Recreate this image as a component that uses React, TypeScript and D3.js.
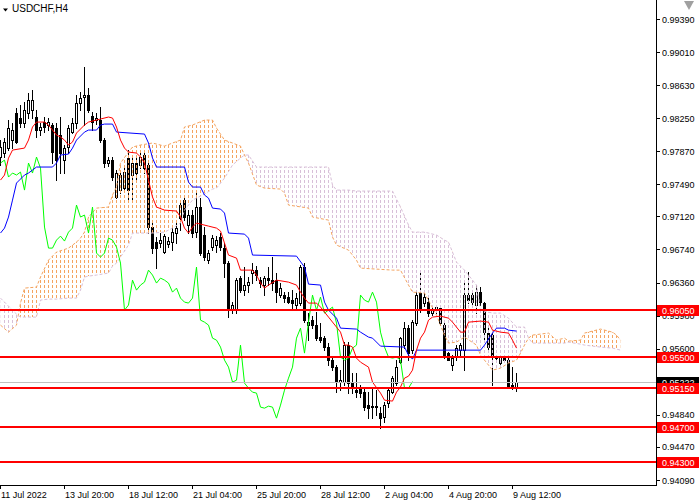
import React, { useEffect, useRef } from 'react';
import * as d3 from 'd3';

// USDCHF H4 bars, oldest first (11 Jul 2022 -> 9 Aug 2022)
const opens = [
  0.97803, 0.97849, 0.97906, 0.97998, 0.98309, 0.98251, 0.98194, 0.98309, 0.98343, 0.98263,
  0.98113, 0.98205, 0.98171, 0.98171, 0.98136, 0.98056, 0.97768, 0.97918, 0.98090, 0.98194,
  0.98424, 0.98493, 0.98516, 0.98274, 0.98228, 0.98228, 0.97998, 0.97734, 0.97768, 0.97343,
  0.97423, 0.97446, 0.97791, 0.97596, 0.97734, 0.97711, 0.97826, 0.97711, 0.96998, 0.96825,
  0.96814, 0.96710, 0.96802, 0.96825, 0.96929, 0.97101, 0.97308, 0.97021, 0.97136, 0.96940,
  0.97228, 0.96906, 0.96618, 0.96768, 0.96791, 0.96883, 0.96756, 0.96584, 0.96043, 0.96043,
  0.96411, 0.96273, 0.96331, 0.96469, 0.96503, 0.96388, 0.96331, 0.96411, 0.96388, 0.96388,
  0.96216, 0.96216, 0.96193, 0.96158, 0.96101, 0.96124, 0.96538, 0.95871, 0.95928, 0.95871,
  0.95733, 0.95721, 0.95618, 0.95468, 0.95388, 0.95215, 0.95215, 0.95641, 0.95204, 0.95123,
  0.95146, 0.95100, 0.94951, 0.94928, 0.94939, 0.94859, 0.94813, 0.94974, 0.95100, 0.95204,
  0.95445, 0.95641, 0.95836, 0.95583, 0.95894, 0.96239, 0.96124, 0.96135, 0.96009, 0.96043,
  0.96066, 0.95871, 0.95549, 0.95411, 0.95503, 0.95583, 0.95583, 0.96216, 0.96216, 0.96101,
  0.96250, 0.96124, 0.95779, 0.95756, 0.95503, 0.95434, 0.95514, 0.95468, 0.95181, 0.95158,
];
const highs = [
  0.97998, 0.98021, 0.98228, 0.98194, 0.98366, 0.98401, 0.98435, 0.98539, 0.98573, 0.98343,
  0.98194, 0.98263, 0.98251, 0.98194, 0.98194, 0.98263, 0.97941, 0.98171, 0.98251, 0.98516,
  0.98550, 0.98838, 0.98596, 0.98320, 0.98309, 0.98378, 0.98021, 0.97803, 0.97803, 0.97653,
  0.97653, 0.97711, 0.97883, 0.97803, 0.97791, 0.97849, 0.97883, 0.97768, 0.97044, 0.96883,
  0.96929, 0.96917, 0.96883, 0.96998, 0.97078, 0.97308, 0.97366, 0.97193, 0.97193, 0.97389,
  0.97331, 0.96998, 0.96733, 0.96906, 0.96894, 0.96929, 0.96814, 0.96607, 0.96135, 0.96411,
  0.96434, 0.96538, 0.96423, 0.96584, 0.96549, 0.96423, 0.96434, 0.96538, 0.96653, 0.96469,
  0.96354, 0.96250, 0.96250, 0.96273, 0.96239, 0.96561, 0.96584, 0.96009, 0.95974, 0.96020,
  0.95894, 0.95744, 0.95664, 0.95491, 0.95411, 0.95353, 0.95675, 0.95675, 0.95319, 0.95319,
  0.95181, 0.95146, 0.95100, 0.95146, 0.95123, 0.94928, 0.94985, 0.95158, 0.95284, 0.95468,
  0.95733, 0.95905, 0.95871, 0.95928, 0.96273, 0.96503, 0.96273, 0.96181, 0.96078, 0.96101,
  0.96078, 0.95928, 0.95560, 0.95526, 0.95641, 0.95664, 0.96388, 0.96480, 0.96250, 0.96331,
  0.96308, 0.96135, 0.95836, 0.95813, 0.95526, 0.95526, 0.95526, 0.95491, 0.95388, 0.95319,
];
const lows = [
  0.97711, 0.97803, 0.97883, 0.97906, 0.97964, 0.98148, 0.98148, 0.98251, 0.98251, 0.98033,
  0.98056, 0.98090, 0.98113, 0.97734, 0.97538, 0.97619, 0.97619, 0.97849, 0.98079, 0.98136,
  0.98343, 0.98171, 0.98320, 0.98113, 0.98182, 0.97975, 0.97688, 0.97699, 0.97538, 0.97331,
  0.97389, 0.97400, 0.97308, 0.97285, 0.97538, 0.97676, 0.97619, 0.96929, 0.96699, 0.96526,
  0.96768, 0.96699, 0.96768, 0.96733, 0.96814, 0.96963, 0.97078, 0.96929, 0.96883, 0.96883,
  0.96676, 0.96618, 0.96584, 0.96733, 0.96710, 0.96733, 0.96423, 0.95963, 0.96009, 0.96009,
  0.96250, 0.96216, 0.96250, 0.96354, 0.96388, 0.96308, 0.96216, 0.96331, 0.96273, 0.96135,
  0.96193, 0.96135, 0.96124, 0.96043, 0.96043, 0.96101, 0.95905, 0.95698, 0.95836, 0.95698,
  0.95675, 0.95583, 0.95411, 0.95353, 0.95100, 0.95123, 0.95181, 0.95089, 0.95089, 0.95043,
  0.95043, 0.94893, 0.94801, 0.94801, 0.94836, 0.94686, 0.94755, 0.94928, 0.95089, 0.95181,
  0.95434, 0.95606, 0.95468, 0.95549, 0.95871, 0.96020, 0.96089, 0.95974, 0.95986, 0.96009,
  0.95871, 0.95491, 0.95468, 0.95353, 0.95468, 0.95503, 0.95353, 0.96124, 0.96078, 0.96009,
  0.96101, 0.95698, 0.95583, 0.95181, 0.95445, 0.95388, 0.95445, 0.95146, 0.95135, 0.95112,
];
const closes = [
  0.97918, 0.97975, 0.98136, 0.98113, 0.97975, 0.98194, 0.98343, 0.98458, 0.98458, 0.98113,
  0.98148, 0.98148, 0.98205, 0.97860, 0.97768, 0.97849, 0.97906, 0.98136, 0.98194, 0.98424,
  0.98481, 0.98516, 0.98343, 0.98205, 0.98251, 0.97998, 0.97734, 0.97768, 0.97573, 0.97619,
  0.97596, 0.97630, 0.97423, 0.97734, 0.97619, 0.97803, 0.97676, 0.96998, 0.96756, 0.96756,
  0.96848, 0.96894, 0.96837, 0.96940, 0.96986, 0.97251, 0.97113, 0.97136, 0.96929, 0.97228,
  0.96699, 0.96653, 0.96699, 0.96871, 0.96848, 0.96768, 0.96584, 0.96043, 0.96101, 0.96388,
  0.96273, 0.96331, 0.96365, 0.96503, 0.96446, 0.96354, 0.96411, 0.96388, 0.96354, 0.96250,
  0.96296, 0.96181, 0.96135, 0.96124, 0.96181, 0.96538, 0.95928, 0.95905, 0.95871, 0.95721,
  0.95698, 0.95618, 0.95468, 0.95388, 0.95215, 0.95238, 0.95641, 0.95204, 0.95146, 0.95100,
  0.95089, 0.94928, 0.94916, 0.94939, 0.94928, 0.94801, 0.94951, 0.95123, 0.95261, 0.95388,
  0.95721, 0.95836, 0.95549, 0.95905, 0.96216, 0.96043, 0.96193, 0.96009, 0.96043, 0.96078,
  0.95894, 0.95503, 0.95468, 0.95491, 0.95606, 0.95641, 0.96216, 0.96158, 0.96135, 0.96250,
  0.96135, 0.95790, 0.95618, 0.95503, 0.95491, 0.95503, 0.95468, 0.95146, 0.95146, 0.95222,
];

// Tenkan-sen (red) and Kijun-sen (blue), [bar, price]
const tenkan: [number, number][] = [
  [0, 0.97538], [1, 0.97596], [2, 0.97791], [3, 0.97883], [6, 0.97906], [7, 0.97998], [8, 0.98148],
  [9, 0.98205], [11, 0.98205], [12, 0.98171], [14, 0.98056], [15, 0.98033], [16, 0.97998], [17, 0.97941],
  [18, 0.97975], [19, 0.98079], [21, 0.98171], [22, 0.98205], [25, 0.98240], [27, 0.98263], [28, 0.98251],
  [29, 0.98148], [30, 0.97998], [31, 0.97906], [32, 0.97860], [34, 0.97849], [35, 0.97803], [36, 0.97734],
  [37, 0.97538], [38, 0.97343], [39, 0.97228], [41, 0.97193], [44, 0.97182], [45, 0.97113], [46, 0.96986],
  [47, 0.96929], [48, 0.96998], [49, 0.97044], [50, 0.97032], [52, 0.97009], [54, 0.96986], [55, 0.96952],
  [56, 0.96814], [57, 0.96676], [59, 0.96641], [60, 0.96503], [63, 0.96503], [64, 0.96446], [65, 0.96354],
  [66, 0.96296], [67, 0.96331], [69, 0.96388], [72, 0.96365], [74, 0.96331], [75, 0.96250], [76, 0.96181],
  [77, 0.96124], [79, 0.96124], [80, 0.96078], [82, 0.95963], [84, 0.95848], [85, 0.95790], [86, 0.95641],
  [87, 0.95641], [88, 0.95618], [89, 0.95491], [90, 0.95445], [92, 0.95388], [93, 0.95215], [95, 0.95089],
  [96, 0.95008], [98, 0.94997], [99, 0.95100], [100, 0.95158], [101, 0.95261], [102, 0.95284], [103, 0.95353],
  [104, 0.95583], [105, 0.95721], [106, 0.95790], [107, 0.95928], [108, 0.95963], [110, 0.95974],
  [112, 0.95951], [113, 0.95905], [115, 0.95790], [116, 0.95790], [117, 0.95905], [120, 0.95917],
  [122, 0.95905], [123, 0.95813], [125, 0.95790], [127, 0.95779], [128, 0.95698], [129, 0.95606],
];
const kijun: [number, number][] = [
  [0, 0.96929], [1, 0.96986], [2, 0.97113], [3, 0.97308], [4, 0.97504], [6, 0.97596], [7, 0.97619],
  [8, 0.97653], [9, 0.97688], [13, 0.97688], [14, 0.97734], [15, 0.97826], [17, 0.97837], [18, 0.97906],
  [19, 0.97998], [21, 0.98090], [22, 0.98113], [24, 0.98113], [25, 0.98171], [26, 0.98182], [28, 0.98182],
  [29, 0.98090], [36, 0.98067], [37, 0.97964], [38, 0.97791], [39, 0.97688], [46, 0.97688], [47, 0.97515],
  [48, 0.97458], [50, 0.97458], [51, 0.97366], [52, 0.97331], [53, 0.97216], [55, 0.97205], [56, 0.97159],
  [57, 0.96929], [61, 0.96917], [62, 0.96871], [63, 0.96676], [74, 0.96664], [76, 0.96538], [77, 0.96342],
  [80, 0.96331], [81, 0.96135], [82, 0.96043], [84, 0.95951], [85, 0.95836], [89, 0.95825], [90, 0.95790],
  [92, 0.95733], [93, 0.95721], [95, 0.95629], [101, 0.95618], [102, 0.95526], [103, 0.95480],
  [104, 0.95583], [120, 0.95583], [121, 0.95641], [123, 0.95779], [124, 0.95836], [126, 0.95836],
  [127, 0.95813], [129, 0.95802],
];

// Senkou span A / B (already shifted 26 bars ahead)
const cloudIdx = [
  0, 2, 4, 5, 6, 9, 10, 12, 14, 17, 19, 20, 21, 22, 24, 27, 28, 29, 30, 32, 33, 35, 38, 41, 43, 45, 46, 48,
  51, 53, 54, 56, 58, 60, 61, 62, 64, 66, 70, 71, 72, 77, 78, 82, 83, 84, 87, 89, 90, 98, 100, 102, 103,
  106, 109, 111, 112, 114, 116, 119, 120, 122, 123, 125, 127, 129, 130, 131, 132, 133, 137, 139, 141, 142,
  145, 146, 150, 153, 154, 155,
];
const spanA = [
  0.95871, 0.95790, 0.95871, 0.96124, 0.96296, 0.96308, 0.96423, 0.96618, 0.96710, 0.96756, 0.96825,
  0.96871, 0.96940, 0.97113, 0.97216, 0.97228, 0.97366, 0.97458, 0.97734, 0.97860, 0.97918, 0.97941,
  0.97964, 0.97929, 0.97964, 0.97998, 0.98148, 0.98171, 0.98228, 0.98228, 0.98136, 0.97998, 0.97964,
  0.97929, 0.97826, 0.97734, 0.97481, 0.97446, 0.97435, 0.97389, 0.97251, 0.97216, 0.97113, 0.97078,
  0.96883, 0.96791, 0.96733, 0.96618, 0.96526, 0.96503, 0.96503, 0.96331, 0.96250, 0.96239, 0.95986,
  0.95756, 0.95664, 0.95675, 0.95733, 0.95641, 0.95526, 0.95411, 0.95353, 0.95376, 0.95434, 0.95468,
  0.95549, 0.95641, 0.95721, 0.95756, 0.95779, 0.95698, 0.95721, 0.95687, 0.95698, 0.95779, 0.95825,
  0.95790, 0.95756, 0.95698,
];
const spanB = [
  0.96181, 0.96089, 0.95997, 0.95963, 0.95963, 0.95963, 0.96158, 0.96170, 0.96170, 0.96181, 0.96181,
  0.96273, 0.96423, 0.96434, 0.96446, 0.96469, 0.96549, 0.96584, 0.96653, 0.96791, 0.96929, 0.96929,
  0.96929, 0.96940, 0.96986, 0.97044, 0.97193, 0.97308, 0.97377, 0.97435, 0.97446, 0.97561, 0.97711,
  0.97791, 0.97826, 0.97826, 0.97688, 0.97688, 0.97688, 0.97688, 0.97688, 0.97688, 0.97688, 0.97688,
  0.97481, 0.97423, 0.97423, 0.97412, 0.97412, 0.97412, 0.97228, 0.97021, 0.96940, 0.96940, 0.96906,
  0.96848, 0.96825, 0.96595, 0.96503, 0.96331, 0.96043, 0.96020, 0.96009, 0.96009, 0.95951, 0.95848,
  0.95848, 0.95848, 0.95721, 0.95664, 0.95664, 0.95664, 0.95664, 0.95675, 0.95652, 0.95641, 0.95618,
  0.95606, 0.95595, 0.95583,
];
const chikouShift = 26;

const priceTicks = [
  0.9939, 0.9901, 0.9863, 0.9825, 0.9787, 0.9749, 0.9712, 0.9674, 0.9636, 0.9598, 0.956, 0.9484, 0.9447, 0.9409,
];
const timeTickIdx = [0, 16, 32, 48, 64, 80, 96, 112, 128];
const timeTickLabels = [
  '11 Jul 2022', '13 Jul 20:00', '18 Jul 12:00', '21 Jul 04:00', '25 Jul 20:00',
  '28 Jul 12:00', '2 Aug 04:00', '4 Aug 20:00', '9 Aug 12:00',
];
const levels = [0.9605, 0.955, 0.9515, 0.947, 0.943];
const bid = 0.95222;

const FONT = '"Liberation Sans", Arial, sans-serif';

const App: React.FC = () => {
  const ref = useRef<SVGSVGElement>(null);

  useEffect(() => {
    const svg = d3.select(ref.current);
    svg.selectAll('*').remove();

    const plotR = 656;
    const plotB = 485;
    const x = d3.scaleLinear().domain([0, 1]).range([0, 4]);
    const y = d3.scaleLinear().domain([0.9409, 0.9939]).range([480, 19]);
    const n = closes.length;

    svg.append('rect').attr('width', 700).attr('height', 500).attr('fill', '#fff');

    const defs = svg.append('defs');
    const hatch = (id: string, color: string) => {
      const p = defs.append('pattern').attr('id', id).attr('patternUnits', 'userSpaceOnUse')
        .attr('x', 0).attr('y', 0).attr('width', 4).attr('height', 5);
      p.append('rect').attr('x', 0).attr('y', 0).attr('width', 1).attr('height', 3).attr('fill', color);
    };
    hatch('hatchA', '#f4a460');
    hatch('hatchB', '#d8bfd8');

    const ck = d3.range(cloudIdx.length);
    const cx = (k: number) => x(cloudIdx[k]) + 0.5;
    defs.append('clipPath').attr('id', 'aboveB').append('path')
      .attr('d', d3.area<number>().x(cx).y0(0).y1(k => y(spanB[k]))(ck) as string);
    defs.append('clipPath').attr('id', 'belowB').append('path')
      .attr('d', d3.area<number>().x(cx).y0(plotB).y1(k => y(spanB[k]))(ck) as string);
    defs.append('clipPath').attr('id', 'plot').append('rect')
      .attr('x', 0).attr('y', 0).attr('width', plotR).attr('height', plotB);

    const g = svg.append('g').attr('clip-path', 'url(#plot)');

    // candles
    const idx = d3.range(n);
    g.append('g').selectAll('rect').data(idx).join('rect')
      .attr('x', i => x(i)).attr('y', i => Math.round(y(highs[i])))
      .attr('width', 1)
      .attr('height', i => Math.max(1, Math.round(y(lows[i])) - Math.round(y(highs[i])) + 1))
      .attr('fill', '#000').attr('shape-rendering', 'crispEdges');
    g.append('g').selectAll('rect').data(idx.filter(i => closes[i] < opens[i])).join('rect')
      .attr('x', i => x(i) - 1).attr('y', i => Math.round(y(opens[i])))
      .attr('width', 3)
      .attr('height', i => Math.max(1, Math.round(y(closes[i])) - Math.round(y(opens[i])) + 1))
      .attr('fill', '#000').attr('shape-rendering', 'crispEdges');
    g.append('g').selectAll('rect').data(idx.filter(i => closes[i] >= opens[i])).join('rect')
      .attr('x', i => x(i) - 0.5).attr('y', i => Math.round(y(closes[i])) + 0.5)
      .attr('width', 2)
      .attr('height', i => Math.max(0, Math.round(y(opens[i])) - Math.round(y(closes[i]))))
      .attr('fill', '#fff').attr('stroke', '#000').attr('stroke-width', 1)
      .attr('shape-rendering', 'crispEdges');

    // cloud
    const cloud = d3.area<number>().x(cx).y0(k => y(spanA[k])).y1(k => y(spanB[k]))(ck) as string;
    g.append('path').attr('d', cloud).attr('fill', 'url(#hatchA)').attr('clip-path', 'url(#aboveB)');
    g.append('path').attr('d', cloud).attr('fill', 'url(#hatchB)').attr('clip-path', 'url(#belowB)');
    const spanLine = (vals: number[]) => d3.line<number>().x(cx).y(k => y(vals[k]))(ck) as string;
    g.append('path').attr('d', spanLine(spanA)).attr('fill', 'none')
      .attr('stroke', '#f4a460').attr('stroke-dasharray', '3,2');
    g.append('path').attr('d', spanLine(spanB)).attr('fill', 'none')
      .attr('stroke', '#d8bfd8').attr('stroke-dasharray', '3,2');

    // lines
    const line = d3.line<[number, number]>().x(d => x(d[0]) + 0.5).y(d => y(d[1]));
    const chikou: [number, number][] = closes.slice(chikouShift).map((c, i) => [i, c]);
    g.append('path').attr('d', line(chikou) as string).attr('fill', 'none').attr('stroke', '#00ff00');
    g.append('path').attr('d', line(kijun) as string).attr('fill', 'none').attr('stroke', '#0000ff');
    g.append('path').attr('d', line(tenkan) as string).attr('fill', 'none').attr('stroke', '#ff0000');

    // bid line
    const yb = Math.round(y(bid)) + 0.5;
    g.append('line').attr('x1', 0).attr('x2', plotR).attr('y1', yb).attr('y2', yb)
      .attr('stroke', '#c0c0c0');

    // horizontal levels
    g.selectAll('line.lvl').data(levels).join('line').attr('class', 'lvl')
      .attr('x1', 0).attr('x2', plotR)
      .attr('y1', d => Math.round(y(d))).attr('y2', d => Math.round(y(d)))
      .attr('stroke', '#ff0000').attr('stroke-width', 2);

    // axes
    svg.append('line').attr('x1', plotR + 0.5).attr('x2', plotR + 0.5).attr('y1', 0).attr('y2', plotB + 1)
      .attr('stroke', '#000');
    svg.append('line').attr('x1', 0).attr('x2', plotR + 1).attr('y1', plotB + 0.5).attr('y2', plotB + 0.5)
      .attr('stroke', '#000');

    const pt = svg.append('g');
    pt.selectAll('line').data(priceTicks).join('line')
      .attr('x1', plotR).attr('x2', plotR + 4)
      .attr('y1', d => Math.round(y(d)) + 0.5).attr('y2', d => Math.round(y(d)) + 0.5)
      .attr('stroke', '#000');
    pt.selectAll('text').data(priceTicks).join('text')
      .attr('x', 662).attr('y', d => y(d) + 3.5)
      .attr('font-family', FONT).attr('font-size', 9).attr('fill', '#000')
      .text(d => d.toFixed(5));

    const tt = svg.append('g');
    tt.selectAll('line').data(timeTickIdx).join('line')
      .attr('x1', i => x(i) + 0.5).attr('x2', i => x(i) + 0.5)
      .attr('y1', plotB).attr('y2', plotB + 4).attr('stroke', '#000');
    tt.selectAll('text').data(timeTickIdx).join('text')
      .attr('x', i => x(i) + 1).attr('y', 498)
      .attr('font-family', FONT).attr('font-size', 9).attr('fill', '#000')
      .text((_, k) => timeTickLabels[k]);

    // price labels on the scale
    const tag = (v: number, bg: string) => {
      const yy = Math.round(y(v));
      svg.append('rect').attr('x', 657).attr('y', yy - 5).attr('width', 42).attr('height', 11).attr('fill', bg);
      svg.append('text').attr('x', 662).attr('y', yy + 3.5)
        .attr('font-family', FONT).attr('font-size', 9).attr('fill', '#fff').text(v.toFixed(5));
    };
    tag(bid, '#000');
    levels.forEach(v => tag(v, '#ff0000'));

    // title
    svg.append('path').attr('d', 'M3,8.5 L8,8.5 L5.5,11.5 Z').attr('fill', '#000');
    svg.append('text').attr('x', 12).attr('y', 12)
      .attr('font-family', FONT).attr('font-size', 10).attr('fill', '#000').text('USDCHF,H4');

    // chart shift marker
    svg.append('path').attr('d', 'M684,1 L694,1 L689,10 Z').attr('fill', '#a0a0a0');
  }, []);

  return (
    <svg ref={ref} width={700} height={500} style={{ position: 'fixed', left: 0, top: 0 }} />
  );
};

export default App;
